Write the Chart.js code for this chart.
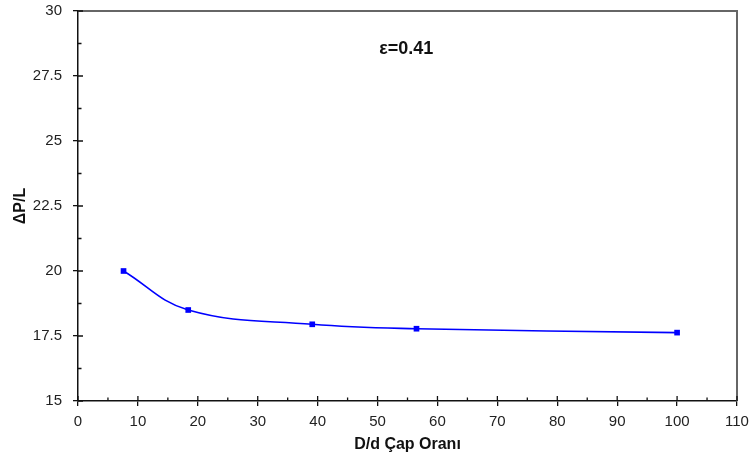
<!DOCTYPE html>
<html>
<head>
<meta charset="utf-8">
<script src="https://cdn.jsdelivr.net/npm/chart.js@4"></script>
<style>
  html, body { margin: 0; padding: 0; background: #fff; }
  #wrap { width: 751px; height: 457px; }
</style>
</head>
<body>
<div id="wrap"><canvas id="grafik" width="751" height="457"></canvas></div>
<script>
// veriler
const capOrani = [7.6, 18.4, 39.1, 56.5, 100];
const basincKaybi = [20.0, 18.5, 17.95, 17.78, 17.63];
const xTicks = [0, 10, 20, 30, 40, 50, 60, 70, 80, 90, 100, 110];
const yTicks = [15, 17.5, 20, 22.5, 25, 27.5, 30];
const etiket = 'ε=0.41';
const etiketKonum = [54.8, 28.55];

const FONT = "'Liberation Sans', Arial, sans-serif";

// ara çentikler, iç çentikler, çerçeve ve ε etiketi
const cizimEk = {
  id: 'cizimEk',
  afterDraw(chart) {
    const { ctx, chartArea: a, scales: { x, y } } = chart;
    ctx.save();
    // üst ve sağ çerçeve
    ctx.strokeStyle = '#666';
    ctx.lineWidth = 2;
    ctx.beginPath();
    ctx.moveTo(a.left, a.top);
    ctx.lineTo(a.right, a.top);
    ctx.lineTo(a.right, a.bottom);
    ctx.stroke();

    ctx.strokeStyle = '#111';
    ctx.lineWidth = 1.3;
    ctx.beginPath();
    xTicks.forEach((v, i) => {
      const px = x.getPixelForValue(v);
      ctx.moveTo(px, a.bottom); ctx.lineTo(px, a.bottom - 5);
      if (i < xTicks.length - 1) {
        const mx = x.getPixelForValue(v + 5);
        ctx.moveTo(mx, a.bottom); ctx.lineTo(mx, a.bottom - 3.5);
      }
    });
    yTicks.forEach((v, i) => {
      const py = y.getPixelForValue(v);
      ctx.moveTo(a.left, py); ctx.lineTo(a.left + 5, py);
      if (i < yTicks.length - 1) {
        const my = y.getPixelForValue(v + 1.25);
        ctx.moveTo(a.left, my); ctx.lineTo(a.left + 3.5, my);
      }
    });
    ctx.stroke();

    ctx.fillStyle = '#111';
    ctx.font = 'bold 18px ' + FONT;
    ctx.textAlign = 'center';
    ctx.textBaseline = 'middle';
    ctx.fillText(etiket, x.getPixelForValue(etiketKonum[0]), y.getPixelForValue(etiketKonum[1]));
    ctx.restore();
  }
};

new Chart(document.getElementById('grafik'), {
  type: 'scatter',
  data: {
    datasets: [{
      data: capOrani.map((v, i) => ({ x: v, y: basincKaybi[i] })),
      showLine: true,
      borderColor: '#0000ff',
      backgroundColor: '#0000ff',
      borderWidth: 1.6,
      tension: 0.4,
      pointStyle: 'rect',
      pointRadius: 4,
      pointBorderWidth: 0
    }]
  },
  options: {
    responsive: false,
    animation: false,
    layout: { padding: { top: 11, right: 14, left: 0, bottom: 0 } },
    plugins: { legend: { display: false }, tooltip: { enabled: false } },
    scales: {
      x: {
        type: 'linear',
        min: 0, max: 110,
        afterBuildTicks(s) { s.ticks = xTicks.map(v => ({ value: v })); },
        afterFit(s) { s.height = 56; s.paddingLeft = 0; s.paddingRight = 0; },
        grid: { drawOnChartArea: false, tickLength: 5, color: '#111', lineWidth: 1.3 },
        border: { color: '#111', width: 1.5 },
        ticks: { color: '#222', padding: 7, maxRotation: 0, font: { family: FONT, size: 15 } },
        title: {
          display: true, text: 'D/d Çap Oranı', color: '#111',
          font: { family: FONT, size: 16, weight: 'bold' },
          padding: { top: 0, bottom: 3 }
        }
      },
      y: {
        min: 15, max: 30,
        afterBuildTicks(s) { s.ticks = yTicks.map(v => ({ value: v })); },
        afterFit(s) { s.width = 78; s.paddingTop = 0; s.paddingBottom = 0; },
        grid: { drawOnChartArea: false, tickLength: 5, color: '#111', lineWidth: 1.3 },
        border: { color: '#111', width: 1.5 },
        ticks: { color: '#222', padding: 11, font: { family: FONT, size: 15 } },
        title: {
          display: true, text: 'ΔP/L', color: '#111',
          font: { family: FONT, size: 16, weight: 'bold' },
          padding: { top: 11, bottom: 0 }
        }
      }
    }
  },
  plugins: [cizimEk]
});
</script>
</body>
</html>
